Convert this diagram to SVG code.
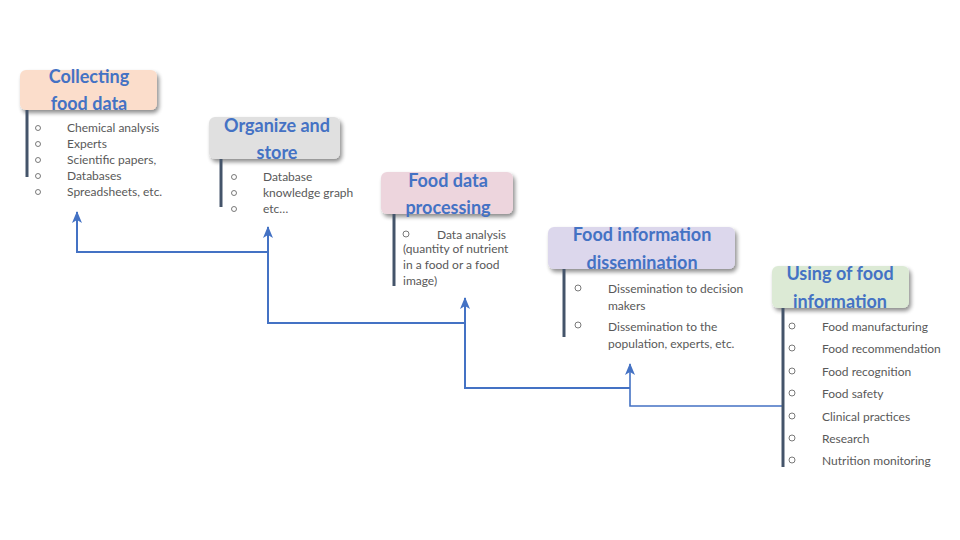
<svg xmlns="http://www.w3.org/2000/svg" width="960" height="540" viewBox="0 0 960 540">
<defs>
  <filter id="sh" x="-10%" y="-20%" width="130%" height="160%">
    <feGaussianBlur in="SourceAlpha" stdDeviation="2"/>
    <feOffset dx="2" dy="3" result="b"/>
    <feComponentTransfer><feFuncA type="linear" slope="0.45"/></feComponentTransfer>
    <feMerge><feMergeNode/><feMergeNode in="SourceGraphic"/></feMerge>
  </filter>
  <marker id="ar" viewBox="0 0 12 10" refX="11" refY="5" markerWidth="12" markerHeight="10" markerUnits="userSpaceOnUse" orient="auto">
    <path d="M12 5 L0 10 L3 5 L0 0 Z" fill="#4472C4"/>
  </marker>
  <style>
    .box{stroke:none;filter:url(#sh)}
    .ttl{font-family:Lato,"Open Sans","Liberation Sans",sans-serif;font-weight:bold;font-size:18px;fill:#4472C4;text-anchor:middle}
    .txt{font-family:Lato,"Open Sans","Liberation Sans",sans-serif;font-size:12px;fill:#595959}
    .bul{fill:none;stroke:#595959;stroke-width:0.8}
    .bar{stroke:#44546A;stroke-width:3}
    .con{fill:none;stroke:#4472C4;stroke-width:2}
  </style>
</defs>
<rect width="960" height="540" fill="#ffffff"/>

<g id="connectors">
  <polyline class="con" points="268,252 77,252 77,212" marker-end="url(#ar)"/>
  <polyline class="con" points="465,323 268,323 268,227" marker-end="url(#ar)"/>
  <polyline class="con" points="630,388 465,388 465,298" marker-end="url(#ar)"/>
  <polyline class="con" points="782,406 630,406 630,364" marker-end="url(#ar)" style="stroke-width:1.6"/>
</g>

<g id="node1">
  <rect class="box" x="20" y="70" width="137" height="40" rx="6" fill="#FBDDCB"/>
  <line class="bar" x1="27" y1="110" x2="27" y2="177"/>
  <text class="ttl" x="89" y="83">Collecting</text>
  <text class="ttl" x="89" y="110">food data</text>
  <g class="bul"><circle cx="38" cy="128" r="2.5"/><circle cx="38" cy="144" r="2.5"/><circle cx="38" cy="160" r="2.5"/><circle cx="38" cy="176" r="2.5"/><circle cx="38" cy="192" r="2.5"/></g>
  <text class="txt" x="67" y="132">Chemical analysis</text>
  <text class="txt" x="67" y="148">Experts</text>
  <text class="txt" x="67" y="164">Scientific papers,</text>
  <text class="txt" x="67" y="180">Databases</text>
  <text class="txt" x="67" y="196">Spreadsheets, etc.</text>
</g>

<g id="node2">
  <rect class="box" x="209" y="117" width="131" height="42" rx="6" fill="#E0E0E0"/>
  <line class="bar" x1="221" y1="159" x2="221" y2="207"/>
  <text class="ttl" x="277" y="132">Organize and</text>
  <text class="ttl" x="277" y="159">store</text>
  <g class="bul"><circle cx="234" cy="177" r="2.5"/><circle cx="234" cy="193" r="2.5"/><circle cx="234" cy="209" r="2.5"/></g>
  <text class="txt" x="263" y="181">Database</text>
  <text class="txt" x="263" y="197">knowledge graph</text>
  <text class="txt" x="263" y="213">etc…</text>
</g>

<g id="node3">
  <rect class="box" x="381" y="172" width="132" height="42" rx="6" fill="#EDD5DD"/>
  <line class="bar" x1="394" y1="214" x2="394" y2="286"/>
  <text class="ttl" x="448" y="187">Food data</text>
  <text class="ttl" x="448" y="214">processing</text>
  <circle class="bul" cx="406" cy="234" r="3"/>
  <text class="txt" x="437" y="239">Data analysis</text>
  <text class="txt" x="403" y="253">(quantity of nutrient</text>
  <text class="txt" x="403" y="269">in a food or a food</text>
  <text class="txt" x="403" y="285">image)</text>
</g>

<g id="node4">
  <rect class="box" x="548" y="227" width="187" height="42" rx="6" fill="#DCD7EC"/>
  <line class="bar" x1="564" y1="269" x2="564" y2="337"/>
  <text class="ttl" x="642" y="241">Food information</text>
  <text class="ttl" x="642" y="269">dissemination</text>
  <circle class="bul" cx="578" cy="288" r="3"/>
  <circle class="bul" cx="578" cy="325" r="3"/>
  <text class="txt" x="608" y="293">Dissemination to decision</text>
  <text class="txt" x="608" y="310">makers</text>
  <text class="txt" x="608" y="331">Dissemination to the</text>
  <text class="txt" x="608" y="348">population, experts, etc.</text>
</g>

<g id="node5">
  <rect class="box" x="772" y="266" width="137" height="42" rx="6" fill="#DCEAD5"/>
  <line class="bar" x1="783" y1="308" x2="783" y2="467"/>
  <text class="ttl" x="840" y="280">Using of food</text>
  <text class="ttl" x="840" y="308">information</text>
  <g class="bul"><circle cx="792" cy="326" r="3"/><circle cx="792" cy="348" r="3"/><circle cx="792" cy="371" r="3"/><circle cx="792" cy="393" r="3"/><circle cx="792" cy="416" r="3"/><circle cx="792" cy="438" r="3"/><circle cx="792" cy="460" r="3"/></g>
  <text class="txt" x="822" y="331">Food manufacturing</text>
  <text class="txt" x="822" y="353">Food recommendation</text>
  <text class="txt" x="822" y="376">Food recognition</text>
  <text class="txt" x="822" y="398">Food safety</text>
  <text class="txt" x="822" y="421">Clinical practices</text>
  <text class="txt" x="822" y="443">Research</text>
  <text class="txt" x="822" y="465">Nutrition monitoring</text>
</g>
</svg>
